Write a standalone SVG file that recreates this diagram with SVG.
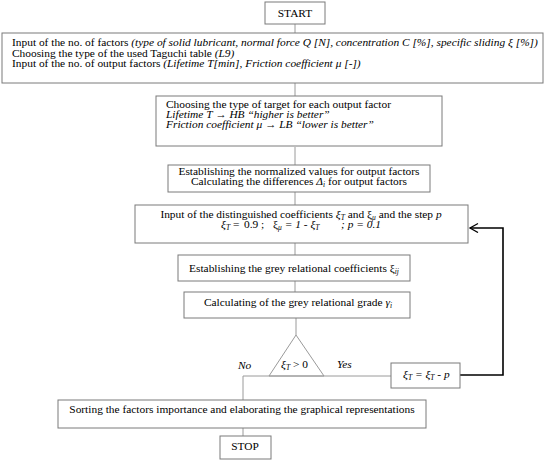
<svg xmlns="http://www.w3.org/2000/svg" width="550" height="460" viewBox="0 0 550 460">
<style>
.box{fill:#fff;stroke:#7a7a7a;stroke-width:1}
.c{stroke:#9a9a9a;stroke-width:1;fill:none}
.fb{stroke:#000;stroke-width:1.6;fill:none}
text{font-family:"Liberation Serif","Times New Roman",serif;font-size:11.4px;fill:#000}
.i{font-style:italic}
.s{font-size:7.5px;font-style:italic}
.m{text-anchor:middle}
</style>
<defs>
<marker id="ah" markerWidth="12" markerHeight="12" refX="9" refY="5" orient="auto" markerUnits="userSpaceOnUse">
<path d="M1,0.5 L9,5 L1,9.5" fill="none" stroke="#000" stroke-width="1.3"/>
</marker>
</defs>
<rect width="550" height="460" fill="#fff"/>
<g id="connectors">
<line class="c" x1="295" y1="24" x2="295" y2="33"/>
<line class="c" x1="295" y1="83" x2="295" y2="96"/>
<line class="c" x1="295" y1="147" x2="295" y2="165"/>
<line class="c" x1="295" y1="192" x2="295" y2="205"/>
<line class="c" x1="295" y1="243" x2="295" y2="255"/>
<line class="c" x1="295" y1="281" x2="295" y2="292"/>
<line class="c" x1="296" y1="318" x2="296" y2="335"/>
<polyline class="c" points="391,376 243,376 243,400"/>
<line class="c" x1="243" y1="428" x2="243" y2="436"/>
<polyline class="fb" points="460,375 503,375 503,228 470,228" marker-end="url(#ah)"/>
<text class="i" x="238" y="369">No</text>
<text class="i" x="337" y="368">Yes</text>
</g>
<g id="start">
<rect class="box" x="265" y="2" width="60" height="22"/>
<text class="m" x="295" y="17">START</text>
</g>
<g id="inputs">
<rect class="box" x="2" y="33" width="541" height="50"/>
<text x="12" y="46">Input of the no. of factors <tspan class="i">(type of solid lubricant, normal force Q [N], concentration C [%], specific sliding ξ [%])</tspan></text>
<text x="12" y="57">Choosing the type of the used Taguchi table <tspan class="i">(L9)</tspan></text>
<text x="12" y="67">Input of the no. of output factors <tspan class="i">(Lifetime T[min], Friction coefficient μ [-])</tspan></text>
</g>
<g id="target">
<rect class="box" x="156" y="96" width="286" height="50"/>
<text x="166" y="108">Choosing the type of target for each output factor</text>
<text class="i" x="166" y="118">Lifetime T → HB “higher is better”</text>
<text class="i" x="166" y="128">Friction coefficient μ → LB “lower is better”</text>
</g>
<g id="normalize">
<rect class="box" x="168" y="165" width="262" height="27"/>
<text class="m" x="299" y="175">Establishing the normalized values for output factors</text>
<text class="m" x="299" y="185">Calculating the differences <tspan class="i">Δ</tspan><tspan class="s" dy="2">i</tspan><tspan dy="-2"> for output factors</tspan></text>
</g>
<g id="coefficients">
<rect class="box" x="135" y="205" width="333" height="38"/>
<text class="m" x="301" y="218">Input of the distinguished coefficients <tspan class="i">ξ</tspan><tspan class="s" dy="2">T</tspan><tspan dy="-2"> and ξ</tspan><tspan class="s" dy="2">μ</tspan><tspan dy="-2"> and the step </tspan><tspan class="i">p</tspan></text>
<text x="221" y="228"><tspan class="i">ξ</tspan><tspan class="s" dy="2">T</tspan><tspan dy="-2"> =</tspan><tspan x="244">0.9 ;</tspan><tspan x="273">ξ</tspan><tspan class="s" dy="2">μ</tspan><tspan class="i" dy="-2"> = 1 - ξ</tspan><tspan class="s" dy="2">T</tspan><tspan class="i" x="341" dy="-2">; p = 0.1</tspan></text>
</g>
<g id="grey-coef">
<rect class="box" x="178" y="255" width="232" height="26"/>
<text class="m" x="294" y="272">Establishing the grey relational coefficients ξ<tspan class="s" dy="2">ij</tspan></text>
</g>
<g id="grey-grade">
<rect class="box" x="184" y="292" width="226" height="26"/>
<text class="m" x="298" y="306">Calculating of the grey relational grade <tspan class="i">γ</tspan><tspan class="s" dy="2">i</tspan></text>
</g>
<g id="decision">
<polygon class="c" points="296,335 269,376 324,376"/>
<text x="281" y="368"><tspan class="i">ξ</tspan><tspan class="s" dy="2">T</tspan><tspan dy="-2"> &gt; 0</tspan></text>
</g>
<g id="step">
<rect class="box" x="391" y="363" width="69" height="25"/>
<text x="403" y="378"><tspan class="i">ξ</tspan><tspan class="s" dy="2">T</tspan><tspan class="i" dy="-2"> = ξ</tspan><tspan class="s" dy="2">T</tspan><tspan class="i" dy="-2"> - p</tspan></text>
</g>
<g id="sorting">
<rect class="box" x="58" y="400" width="368" height="28"/>
<text class="m" x="242" y="413">Sorting the factors importance and elaborating the graphical representations</text>
</g>
<g id="stop">
<rect class="box" x="220" y="436" width="51" height="23"/>
<text class="m" x="245" y="450">STOP</text>
</g>
</svg>
